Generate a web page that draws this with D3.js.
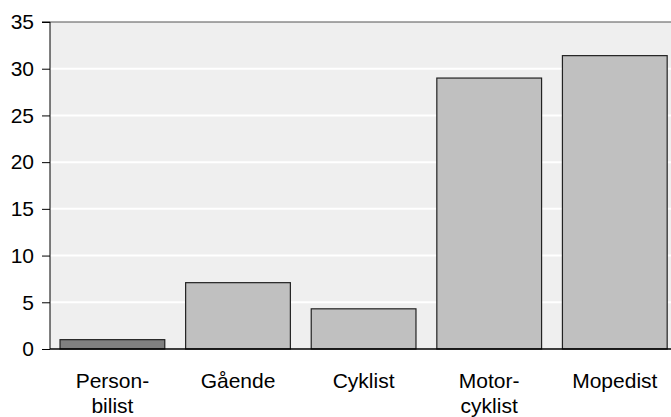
<!DOCTYPE html>
<html>
<head>
<meta charset="utf-8">
<script src="https://cdn.jsdelivr.net/npm/d3@7"></script>
<style>
	body { margin: 0; background: #fff; }
	svg { display: block; font-family: 'Liberation Sans', Arial, sans-serif; }
</style>
</head>
<body>
<svg id="chart" width="671" height="417"></svg>
<script>
const CATEGORIES = ['Personbilist', 'Gående', 'Cyklist', 'Motorcyklist', 'Mopedist'];
const LABELS = [['Person-', 'bilist'], ['Gående'], ['Cyklist'], ['Motor-', 'cyklist'], ['Mopedist']];
const VALUES = [1.0, 7.1, 4.3, 29.0, 31.4];
const Y_TICKS = [0, 5, 10, 15, 20, 25, 30, 35];

const width = 671;
const margin = { top: 22, left: 50 };
const FONT_SIZE = 21;

const $svg = d3.select('#chart');

const x = d3
	.scaleBand()
	.domain(CATEGORIES)
	.range([49.6, 677.6])
	.paddingInner(0.166)
	.paddingOuter(0.083);

const y = d3
	.scaleLinear()
	.domain([0, 35])
	.range([349, margin.top]);

// plot background
$svg
	.append('rect')
	.attr('x', margin.left)
	.attr('y', margin.top)
	.attr('width', width - margin.left)
	.attr('height', y(0) - margin.top)
	.attr('fill', '#efefef');

// white gridlines
$svg
	.append('g')
	.selectAll('line')
	.data(Y_TICKS.filter(d => d > 0 && d < 35))
	.join('line')
	.attr('x1', margin.left)
	.attr('x2', width)
	.attr('y1', d => y(d))
	.attr('y2', d => y(d))
	.attr('stroke', '#fff')
	.attr('stroke-width', 2);

// top border
$svg
	.append('line')
	.attr('x1', margin.left)
	.attr('x2', width)
	.attr('y1', y(35))
	.attr('y2', y(35))
	.attr('stroke', '#555')
	.attr('stroke-width', 1.2);

// bars
$svg
	.append('g')
	.selectAll('rect')
	.data(VALUES)
	.join('rect')
	.attr('x', (d, i) => x(CATEGORIES[i]))
	.attr('y', d => y(d))
	.attr('width', x.bandwidth())
	.attr('height', d => y(0) - y(d))
	.attr('fill', (d, i) => (i === 0 ? '#808080' : '#c0c0c0'))
	.attr('stroke', '#222')
	.attr('stroke-width', 1.2);

// y axis
const yAxis = d3
	.axisLeft(y)
	.tickValues(Y_TICKS)
	.tickSize(8)
	.tickPadding(8);

const $yAxis = $svg
	.append('g')
	.attr('transform', `translate(${margin.left},0)`)
	.call(yAxis);
$yAxis.select('.domain').attr('stroke', '#000').attr('d', `M-8,${y(35)}H0V${y(0)}`);
$yAxis.selectAll('.tick line').attr('stroke', '#000');
$yAxis
	.selectAll('.tick text')
	.attr('font-size', FONT_SIZE)
	.attr('font-family', "'Liberation Sans', Arial, sans-serif")
	.attr('fill', '#000');

// x baseline
$svg
	.append('line')
	.attr('x1', margin.left)
	.attr('x2', width)
	.attr('y1', y(0))
	.attr('y2', y(0))
	.attr('stroke', '#000')
	.attr('stroke-width', 1.5);

// x labels
const $xl = $svg
	.append('g')
	.selectAll('text')
	.data(CATEGORIES)
	.join('text')
	.attr('x', d => x(d) + x.bandwidth() / 2)
	.attr('y', 388)
	.attr('text-anchor', 'middle')
	.attr('font-size', FONT_SIZE)
	.attr('fill', '#000');

$xl
	.selectAll('tspan')
	.data((d, i) => LABELS[i])
	.join('tspan')
	.attr('x', function() {
		return d3.select(this.parentNode).attr('x');
	})
	.attr('dy', (d, i) => (i === 0 ? 0 : 25))
	.text(d => d);
</script>
</body>
</html>
